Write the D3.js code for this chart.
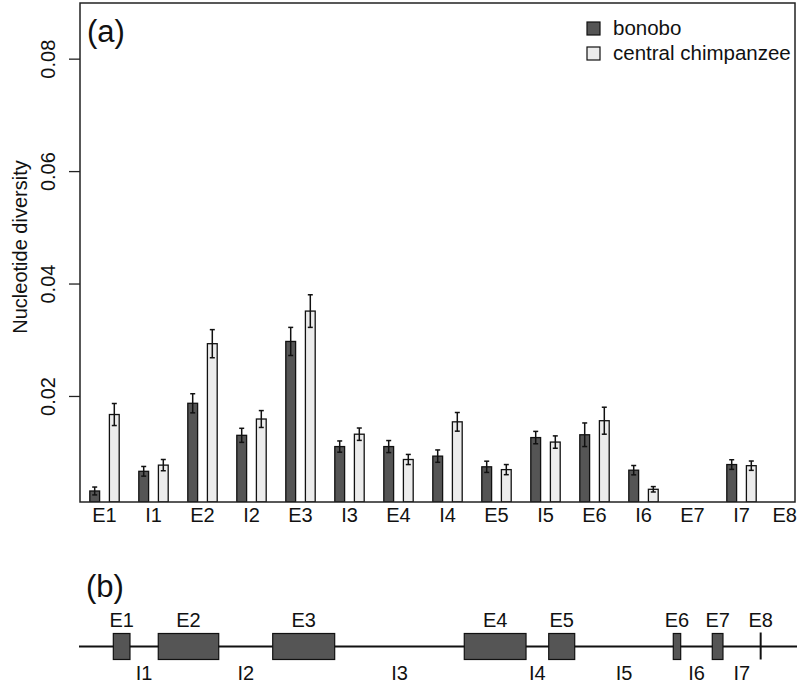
<!DOCTYPE html>
<html>
<head>
<meta charset="utf-8">
<script src="https://cdn.jsdelivr.net/npm/d3@7"></script>
<style>
  html, body { margin: 0; padding: 0; background: #fff; }
  svg { display: block; font-family: "Liberation Sans", Arial, Helvetica, sans-serif; }
</style>
</head>
<body>
<svg id="chart" width="799" height="685"></svg>
<script>
// ---- data ----
const categories = ["E1","I1","E2","I2","E3","I3","E4","I4","E5","I5","E6","I6","E7","I7","E8"];
const seriesNames = ["bonobo", "central chimpanzee"];
const bonobo     = [0.0031, 0.0066, 0.0187, 0.0130, 0.0297, 0.0110, 0.0110, 0.0093, 0.0074, 0.0126, 0.0131, 0.0068, null, 0.0078, null];
const central    = [0.0167, 0.0077, 0.0293, 0.0159, 0.0351, 0.0132, 0.0087, 0.0154, 0.0069, 0.0118, 0.0156, 0.0034, null, 0.0076, null];
const bonoboErr  = [0.0007, 0.00086, 0.0017, 0.00125, 0.0025, 0.0010, 0.00107, 0.0011, 0.0010, 0.0011, 0.0021, 0.00083, null, 0.00086, null];
const centralErr = [0.00196, 0.0010, 0.0025, 0.0015, 0.0029, 0.0011, 0.0009, 0.00166, 0.0009, 0.0011, 0.0024, 0.00048, null, 0.00083, null];
const yTicks = [0.02, 0.04, 0.06, 0.08];

// gene structure (relative positions along the gene, 0-100)
const exonNames  = ["E1","E2","E3","E4","E5","E6","E7","E8"];
const exonStart  = [4.78, 11.04, 26.98, 53.66, 65.42, 82.77, 88.20, 94.94];
const exonEnd    = [7.10, 19.46, 35.61, 62.26, 69.04, 83.80, 89.69, 94.94];
const intronNames = ["I1","I2","I3","I4","I5","I6","I7"];

// ---- layout ----
const W = 799;
const svg = d3.select("#chart");
const L = 80, R = 795, T = 3, B = 502;
const FS = 20;
const darkFill = "#555555", lightFill = "#ececec";

const x = d3.scaleBand().domain(categories).range([L, L + 49 * categories.length]);
const xs = d3.scaleBand().domain(seriesNames).range([0, x.bandwidth()]).paddingInner(0.5).paddingOuter(0.5);
const y = d3.scaleLinear().domain([0.00114, 0.0899]).range([B, T]);

svg.append("defs").append("clipPath").attr("id", "clip")
  .append("rect").attr("x", L).attr("y", T).attr("width", R - L).attr("height", B - T);

const rows = categories.map((c, i) => ({
  cat: c,
  vals: [
    {s: seriesNames[0], v: bonobo[i], e: bonoboErr[i], fill: darkFill},
    {s: seriesNames[1], v: central[i], e: centralErr[i], fill: lightFill}
  ]
}));

const plot = svg.append("g").attr("clip-path", "url(#clip)");
const g = plot.selectAll("g.grp").data(rows).join("g")
  .attr("transform", d => `translate(${x(d.cat)},0)`);

const bars = g.selectAll("g.bar").data(d => d.vals.filter(v => v.v != null)).join("g");
bars.append("rect")
  .attr("x", d => xs(d.s))
  .attr("width", xs.bandwidth())
  .attr("y", d => y(d.v))
  .attr("height", d => B - y(d.v))
  .attr("fill", d => d.fill)
  .attr("stroke", "#111")
  .attr("stroke-width", 1.3);
// error bars
bars.append("line")
  .attr("x1", d => xs(d.s) + xs.bandwidth() / 2).attr("x2", d => xs(d.s) + xs.bandwidth() / 2)
  .attr("y1", d => y(d.v + d.e)).attr("y2", d => y(d.v - d.e))
  .attr("stroke", "#111").attr("stroke-width", 1.5);
bars.selectAll("line.cap").data(d => [d.v + d.e, d.v - d.e].map(v => ({v, d}))).join("line")
  .attr("x1", o => xs(o.d.s) + xs.bandwidth() / 2 - 2.5).attr("x2", o => xs(o.d.s) + xs.bandwidth() / 2 + 2.5)
  .attr("y1", o => y(o.v)).attr("y2", o => y(o.v))
  .attr("stroke", "#111").attr("stroke-width", 1.5);

// box
svg.append("rect").attr("x", L).attr("y", T).attr("width", R - L).attr("height", B - T)
  .attr("fill", "none").attr("stroke", "#222").attr("stroke-width", 1.5);

// y axis
const yAxis = d3.axisLeft(y).tickValues(yTicks).tickSize(11).tickFormat(d3.format(".2f"));
const ya = svg.append("g").attr("transform", `translate(${L},0)`).call(yAxis);
ya.select(".domain").remove();
ya.selectAll(".tick line").attr("stroke", "#222").attr("stroke-width", 1.3);
ya.selectAll(".tick text")
  .attr("x", 0).attr("dy", 0)
  .attr("transform", "translate(-25,0) rotate(-90)")
  .attr("text-anchor", "middle")
  .attr("font-size", FS).attr("fill", "#111").attr("font-family", null);

svg.append("text").attr("transform", "translate(27,247) rotate(-90)")
  .attr("text-anchor", "middle").attr("font-size", FS).attr("fill", "#111")
  .text("Nucleotide diversity");

// x labels
const xAxis = d3.axisBottom(x).tickSize(0);
const xa = svg.append("g").attr("transform", `translate(0,${B})`).call(xAxis);
xa.select(".domain").remove();
xa.selectAll(".tick text").attr("y", 0).attr("dy", 20).attr("font-size", FS).attr("fill", "#111").attr("font-family", null);
// keep labels inside the page
xa.selectAll(".tick").each(function() {
  const t = d3.select(this).select("text").node();
  const bb = t.getBBox();
  const tx = +d3.select(this).attr("transform").match(/translate\(([-\d.]+)/)[1];
  const over = tx + bb.x + bb.width - (W - 2);
  if (over > 0) d3.select(t).attr("x", -over);
});

// panel label
svg.append("text").attr("x", 87).attr("y", 42).attr("font-size", 31).attr("fill", "#111").text("(a)");

// legend
const leg = svg.append("g").selectAll("g").data([{n: seriesNames[0], f: darkFill}, {n: seriesNames[1], f: lightFill}]).join("g")
  .attr("transform", (d, i) => `translate(587,${22 + i * 25})`);
leg.append("rect").attr("width", 13).attr("height", 13).attr("fill", d => d.f).attr("stroke", "#111").attr("stroke-width", 1.2);
leg.append("text").attr("x", 26).attr("y", 13).attr("font-size", 20.5).attr("fill", "#111").text(d => d.n);

// ---- gene structure (b) ----
svg.append("text").attr("x", 86).attr("y", 597).attr("font-size", 31).attr("fill", "#111").text("(b)");
const gx = d3.scaleLinear().domain([0, 100]).range([79, 797]);
const gy = 646.5;
svg.append("line").attr("x1", gx(0)).attr("x2", gx(100)).attr("y1", gy).attr("y2", gy)
  .attr("stroke", "#111").attr("stroke-width", 2);
const exons = exonNames.map((n, i) => ({n, s: exonStart[i], e: exonEnd[i]}));
svg.selectAll("rect.exon").data(exons.filter(d => d.e > d.s)).join("rect")
  .attr("x", d => gx(d.s)).attr("width", d => gx(d.e) - gx(d.s))
  .attr("y", gy - 13).attr("height", 26)
  .attr("fill", darkFill).attr("stroke", "#111").attr("stroke-width", 1.2);
svg.selectAll("line.exon").data(exons.filter(d => d.e <= d.s)).join("line")
  .attr("x1", d => gx(d.s)).attr("x2", d => gx(d.s))
  .attr("y1", gy - 14).attr("y2", gy + 13)
  .attr("stroke", "#111").attr("stroke-width", 2);
svg.selectAll("text.exl").data(exons).join("text")
  .attr("x", d => gx((d.s + d.e) / 2)).attr("y", 627)
  .attr("text-anchor", "middle").attr("font-size", FS).attr("fill", "#111").text(d => d.n);
svg.selectAll("text.inl").data(intronNames).join("text")
  .attr("x", (d, i) => gx((exonEnd[i] + exonStart[i + 1]) / 2)).attr("y", 680)
  .attr("text-anchor", "middle").attr("font-size", FS).attr("fill", "#111").text(d => d);
</script>
</body>
</html>
